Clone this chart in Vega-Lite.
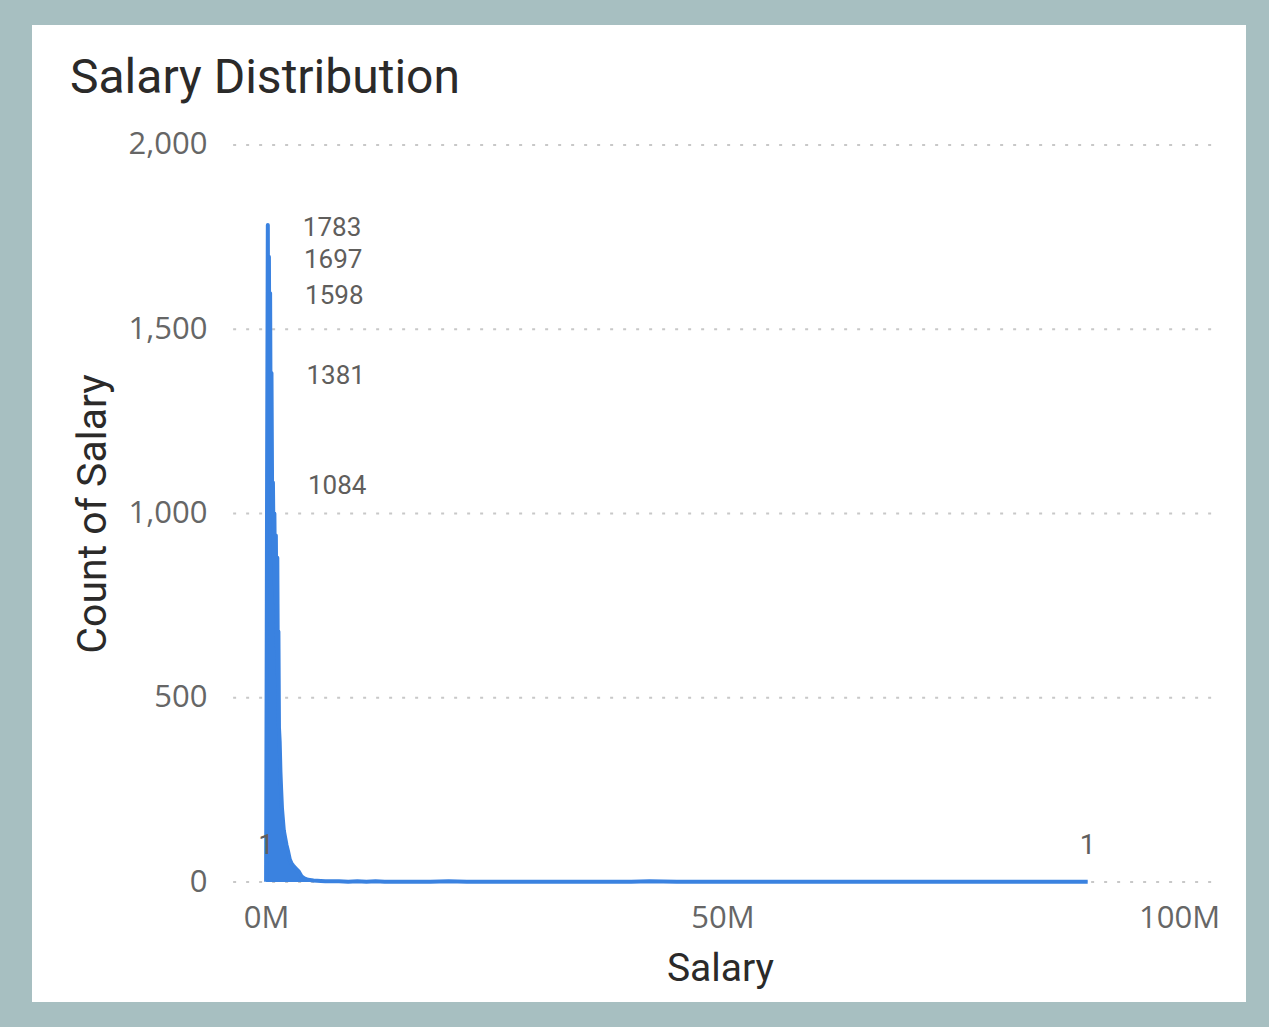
{
  "$schema": "https://vega.github.io/schema/vega-lite/v6.json",
  "width": 1214,
  "height": 977,
  "autosize": "none",
  "padding": {"left": 32, "top": 25, "right": 23, "bottom": 25},
  "background": "#a7bfc1",
  "config": {"view": {"fill": "white", "stroke": null}},
  "title": {"text": "Salary Distribution", "anchor": "start", "frame": "group", "dx": 38, "dy": 46, "offset": -70, "baseline": "alphabetic", "font": "Roboto", "fontSize": 48, "fontWeight": "normal", "color": "#2b2a29"},
  "datasets": {
    "salaries": [
      {"salary": 10000, "count": 1},
      {"salary": 80000, "count": 650},
      {"salary": 120000, "count": 1100},
      {"salary": 200000, "count": 1783},
      {"salary": 260000, "count": 1250},
      {"salary": 320000, "count": 1697},
      {"salary": 380000, "count": 1300},
      {"salary": 450000, "count": 1598},
      {"salary": 520000, "count": 1150},
      {"salary": 600000, "count": 1381},
      {"salary": 680000, "count": 1000},
      {"salary": 760000, "count": 1084},
      {"salary": 840000, "count": 880},
      {"salary": 920000, "count": 1000},
      {"salary": 1000000, "count": 760},
      {"salary": 1080000, "count": 940},
      {"salary": 1160000, "count": 640},
      {"salary": 1240000, "count": 880},
      {"salary": 1300000, "count": 560},
      {"salary": 1360000, "count": 680},
      {"salary": 1420000, "count": 420},
      {"salary": 1500000, "count": 380},
      {"salary": 1580000, "count": 300},
      {"salary": 1660000, "count": 250},
      {"salary": 1750000, "count": 200},
      {"salary": 1850000, "count": 170},
      {"salary": 1950000, "count": 140},
      {"salary": 2100000, "count": 120},
      {"salary": 2250000, "count": 100},
      {"salary": 2400000, "count": 85},
      {"salary": 2600000, "count": 62},
      {"salary": 2800000, "count": 50},
      {"salary": 3000000, "count": 44},
      {"salary": 3300000, "count": 36},
      {"salary": 3600000, "count": 28},
      {"salary": 3900000, "count": 15},
      {"salary": 4200000, "count": 10},
      {"salary": 4600000, "count": 6},
      {"salary": 5200000, "count": 4},
      {"salary": 6000000, "count": 3},
      {"salary": 6500000, "count": 2},
      {"salary": 7000000, "count": 2},
      {"salary": 8000000, "count": 2},
      {"salary": 9000000, "count": 1},
      {"salary": 10000000, "count": 2},
      {"salary": 11000000, "count": 1},
      {"salary": 12000000, "count": 2},
      {"salary": 13000000, "count": 1},
      {"salary": 15000000, "count": 1},
      {"salary": 16000000, "count": 1},
      {"salary": 18000000, "count": 1},
      {"salary": 20000000, "count": 2},
      {"salary": 22000000, "count": 1},
      {"salary": 25000000, "count": 1},
      {"salary": 28000000, "count": 1},
      {"salary": 30000000, "count": 1},
      {"salary": 35000000, "count": 1},
      {"salary": 40000000, "count": 1},
      {"salary": 42000000, "count": 2},
      {"salary": 45000000, "count": 1},
      {"salary": 50000000, "count": 1},
      {"salary": 55000000, "count": 1},
      {"salary": 60000000, "count": 1},
      {"salary": 65000000, "count": 1},
      {"salary": 70000000, "count": 1},
      {"salary": 75000000, "count": 1},
      {"salary": 80000000, "count": 1},
      {"salary": 85000000, "count": 1},
      {"salary": 90000000, "count": 1}
    ],
    "grid": [{"count": 0}, {"count": 500}, {"count": 1000}, {"count": 1500}, {"count": 2000}]
  },
  "layer": [
    {
      "data": {"name": "grid"},
      "mark": {"type": "rule", "color": "#c8c8c8", "strokeWidth": 2, "strokeDash": [3, 10]},
      "encoding": {
        "y": {"field": "count", "type": "quantitative", "scale": {"domain": [-325.6, 2325.6], "nice": false, "zero": false}},
        "x": {"datum": -3600000, "type": "quantitative", "scale": {"domain": [-25630000, 107340000], "nice": false, "zero": false}},
        "x2": {"datum": 104000000}
      }
    },
    {
      "data": {"name": "salaries"},
      "mark": {"type": "area", "color": "#3a82e0", "opacity": 1, "interpolate": "linear"},
      "encoding": {
        "x": {
          "field": "salary", "type": "quantitative",
          "scale": {"domain": [-25630000, 107340000], "nice": false, "zero": false},
          "axis": {
            "title": "Salary", "values": [0, 50000000, 100000000],
            "labelExpr": "format(datum.value / 1000000, 'd') + 'M'",
            "grid": false, "domain": false, "ticks": false, "tickSize": 0,
            "offset": -120, "labelPadding": 21,
            "labelFont": "Open Sans", "labelFontSize": 31, "labelColor": "#666666",
            "titleFont": "Roboto", "titleFontSize": 39, "titleFontWeight": "normal", "titleColor": "#2b2a29",
            "titleX": 688, "titleY": 98, "titleBaseline": "alphabetic"
          }
        },
        "y": {
          "field": "count", "type": "quantitative",
          "scale": {"domain": [-325.6, 2325.6], "nice": false, "zero": false},
          "axis": {
            "title": "Count of Salary", "values": [0, 500, 1000, 1500, 2000], "format": ",d",
            "grid": false, "domain": false, "ticks": false, "tickSize": 0,
            "offset": -179, "labelPadding": 4,
            "labelFont": "Open Sans", "labelFontSize": 31, "labelColor": "#666666",
            "titleFont": "Roboto", "titleFontSize": 41, "titleFontWeight": "normal", "titleColor": "#2b2a29",
            "titlePadding": 14
          }
        },
        "y2": {"datum": 0}
      }
    },
    {
      "data": {"name": "salaries"},
      "mark": {"type": "line", "color": "#3a82e0", "strokeWidth": 4, "strokeJoin": "round", "interpolate": "linear"},
      "encoding": {
        "x": {"field": "salary", "type": "quantitative"},
        "y": {"field": "count", "type": "quantitative"}
      }
    },
    {
      "data": {"name": "salaries"},
      "transform": [{"filter": {"field": "count", "oneOf": [1783, 1697, 1598, 1381, 1084]}}],
      "mark": {"type": "text", "align": "left", "baseline": "middle", "dx": 35, "dy": 3, "font": "Roboto", "fontSize": 26, "color": "#605e5c"},
      "encoding": {
        "x": {"field": "salary", "type": "quantitative"},
        "y": {"field": "count", "type": "quantitative"},
        "text": {"field": "count", "type": "quantitative", "format": "d"}
      }
    },
    {
      "data": {"name": "salaries"},
      "transform": [{"filter": "datum.count == 1 && (datum.salary < 100000 || datum.salary > 89000000)"}],
      "mark": {"type": "text", "align": "center", "baseline": "bottom", "dy": -22, "font": "Roboto", "fontSize": 28, "color": "#605e5c"},
      "encoding": {
        "x": {"field": "salary", "type": "quantitative"},
        "y": {"field": "count", "type": "quantitative"},
        "text": {"field": "count", "type": "quantitative", "format": "d"}
      }
    }
  ]
}
